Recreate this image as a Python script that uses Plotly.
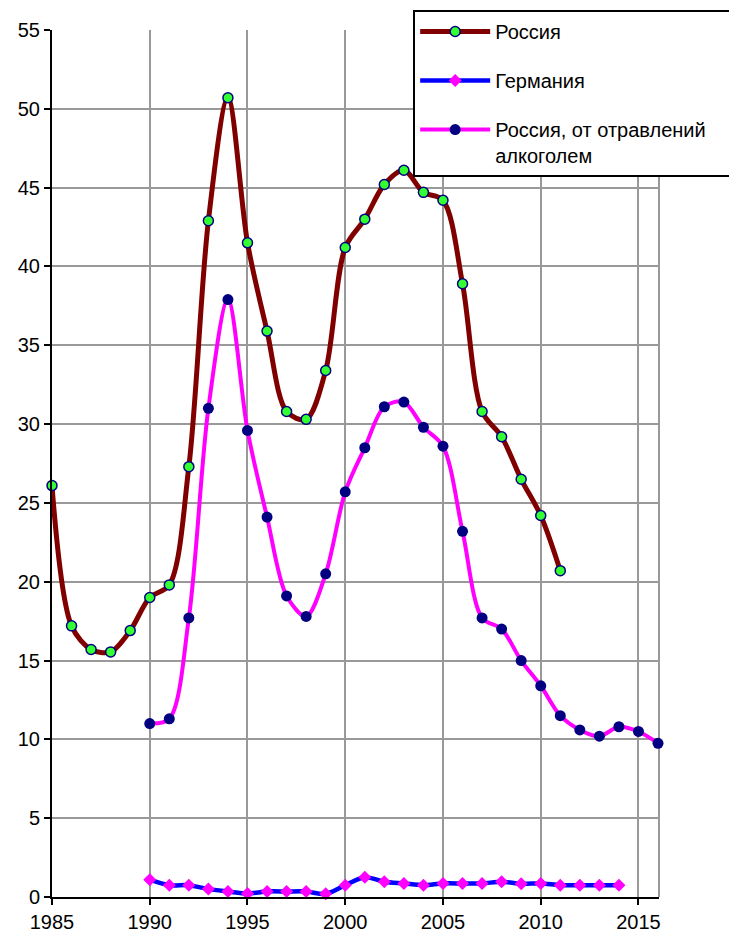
import plotly.graph_objects as go

years_russia = list(range(1985, 2012))
russia = [26.1, 17.2, 15.7, 15.55, 16.9, 19.0, 19.8, 27.3, 42.9, 50.7,
          41.5, 35.9, 30.8, 30.3, 33.4, 41.2, 43.0, 45.2, 46.1, 44.7,
          44.2, 38.9, 30.8, 29.2, 26.5, 24.2, 20.7]

years_germany = list(range(1990, 2015))
germany = [1.1, 0.75, 0.75, 0.5, 0.35, 0.22, 0.35, 0.35, 0.35, 0.2,
           0.75, 1.25, 0.97, 0.86, 0.75, 0.86, 0.86, 0.86, 0.97, 0.84,
           0.86, 0.75, 0.75, 0.75, 0.75]

years_alco = list(range(1990, 2017))
alco = [11.0, 11.3, 17.7, 31.0, 37.9, 29.6, 24.1, 19.1, 17.8, 20.5,
        25.7, 28.5, 31.1, 31.4, 29.8, 28.6, 23.2, 17.7, 17.0, 15.0,
        13.4, 11.5, 10.6, 10.2, 10.8, 10.5, 9.75]

fig = go.Figure()

fig.add_trace(go.Scatter(
    x=years_russia, y=russia, name="Россия", legendgroup="a",
    mode="lines+markers", cliponaxis=False,
    line=dict(color="#800000", width=5, shape="spline", smoothing=0.9),
    marker=dict(color="#33ff33", size=10, line=dict(color="#000080", width=1.5))
))

fig.add_trace(go.Scatter(
    x=years_germany, y=germany, name="Германия", legendgroup="b",
    mode="lines+markers", cliponaxis=False,
    line=dict(color="#0000ff", width=4.5, shape="spline", smoothing=0.9),
    marker=dict(color="#ff00ff", size=10, symbol="diamond")
))

# trailing no-break spaces let the legend box run past the right edge like the original
fig.add_trace(go.Scatter(
    x=years_alco, y=alco,
    name="Россия, от отравлений\u00a0\u00a0\u00a0\u00a0\u00a0<br>алкоголем",
    legendgroup="c",
    mode="lines+markers", cliponaxis=False,
    line=dict(color="#ff00ff", width=4, shape="spline", smoothing=0.9),
    marker=dict(color="#000080", size=11)
))

# right border of the plot area
fig.add_shape(type="line", xref="paper", yref="paper", x0=1, x1=1, y0=0, y1=1,
              line=dict(color="#999999", width=2), layer="below")

# page has an 8px body margin, so the figure is 729x925
fig.update_layout(
    width=729, height=925,
    margin=dict(l=44, r=78, t=22, b=36, autoexpand=False),
    paper_bgcolor="white", plot_bgcolor="white",
    font=dict(family="Liberation Sans, Arial", size=20, color="black"),
    xaxis=dict(range=[1985, 2016.05], dtick=5, tick0=1985,
               showgrid=True, gridcolor="#999999", gridwidth=2,
               showline=True, linecolor="black", linewidth=2,
               ticks="outside", ticklen=6, tickwidth=2, tickcolor="black",
               zeroline=False),
    yaxis=dict(range=[0, 55], dtick=5,
               showgrid=True, gridcolor="#999999", gridwidth=2,
               showline=True, linecolor="black", linewidth=2,
               ticks="outside", ticklen=6, tickwidth=2, tickcolor="black",
               zeroline=False),
    legend=dict(x=0.595, y=1.023, xanchor="left", yanchor="top",
                bordercolor="black", borderwidth=2, bgcolor="white",
                tracegroupgap=20, itemwidth=70, valign="top",
                font=dict(size=20)),
)

fig.write_html("out.html")
